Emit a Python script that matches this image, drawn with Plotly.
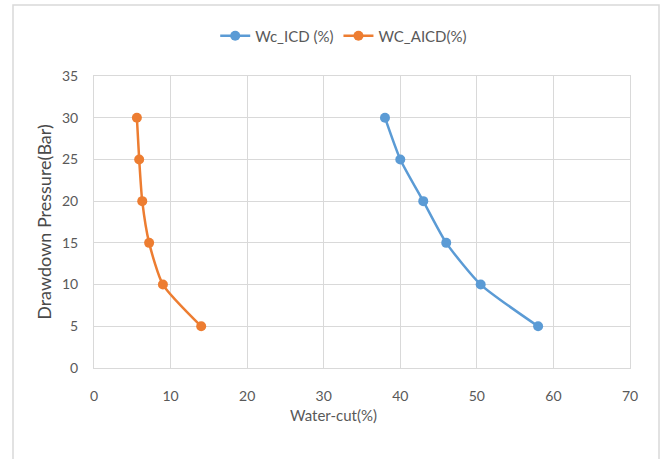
import plotly.graph_objects as go

pressure = [30, 25, 20, 15, 10, 5]
wc_icd = [38.0, 40.0, 43.0, 46.0, 50.5, 58.0]
wc_aicd = [5.6, 5.9, 6.3, 7.2, 9.0, 14.0]
x_title = "Water-cut(%)"
y_title = "Drawdown Pressure(Bar)"

font_fam = "Lato, Open Sans, sans-serif"
gray = "#595959"

fig = go.Figure()
fig.add_trace(go.Scatter(x=wc_icd, y=pressure, mode="lines+markers", name="Wc_ICD (%)",
                         line=dict(color="#5B9BD5", width=2.5, shape="spline", smoothing=0.6),
                         marker=dict(size=10, color="#5B9BD5")))
fig.add_trace(go.Scatter(x=wc_aicd, y=pressure, mode="lines+markers", name="WC_AICD(%)",
                         line=dict(color="#ED7D31", width=2.5, shape="spline", smoothing=0.6),
                         marker=dict(size=10, color="#ED7D31")))

fig.update_layout(
    width=661, height=459,
    margin=dict(l=94, r=31, t=76, b=91, autoexpand=False),
    paper_bgcolor="white", plot_bgcolor="white",
    font=dict(family=font_fam, color=gray, size=14),
    legend=dict(orientation="h", xref="container", yref="container",
                x=0.52, xanchor="center", y=1 - 36 / 459, yanchor="middle",
                bgcolor="rgba(0,0,0,0)",
                font=dict(size=15, color=gray)),
    xaxis=dict(range=[0, 70], dtick=10, showgrid=True, gridcolor="#D9D9D9", gridwidth=1,
               showline=True, linecolor="#D9D9D9", mirror=True, zeroline=False,
               ticks="", ticklabelstandoff=15, automargin=False),
    yaxis=dict(range=[0, 35], dtick=5, showgrid=True, gridcolor="#D9D9D9", gridwidth=1,
               showline=True, linecolor="#D9D9D9", mirror=True, zeroline=False,
               ticks="", ticklabelstandoff=12, automargin=False,
               title=dict(text=y_title, font=dict(size=18, color="#4a4a4a"), standoff=5)),
    annotations=[dict(text=x_title, xref="paper", yref="paper",
                      x=(333 - 94) / 536, y=(368 - 415) / 292, xanchor="center", yanchor="middle",
                      showarrow=False, font=dict(size=15, color=gray))],
    shapes=[dict(type="rect", xref="paper", yref="paper",
                 x0=(13 - 94) / 536, x1=(659 - 94) / 536,
                 y0=(368 - 480) / 292, y1=(368 - 5) / 292,
                 line=dict(color="#D9D9D9", width=1.5), fillcolor="rgba(0,0,0,0)", layer="below")],
)

fig.write_html("out.html", config={"displayModeBar": False},
               post_script="document.body.style.margin='0';")
